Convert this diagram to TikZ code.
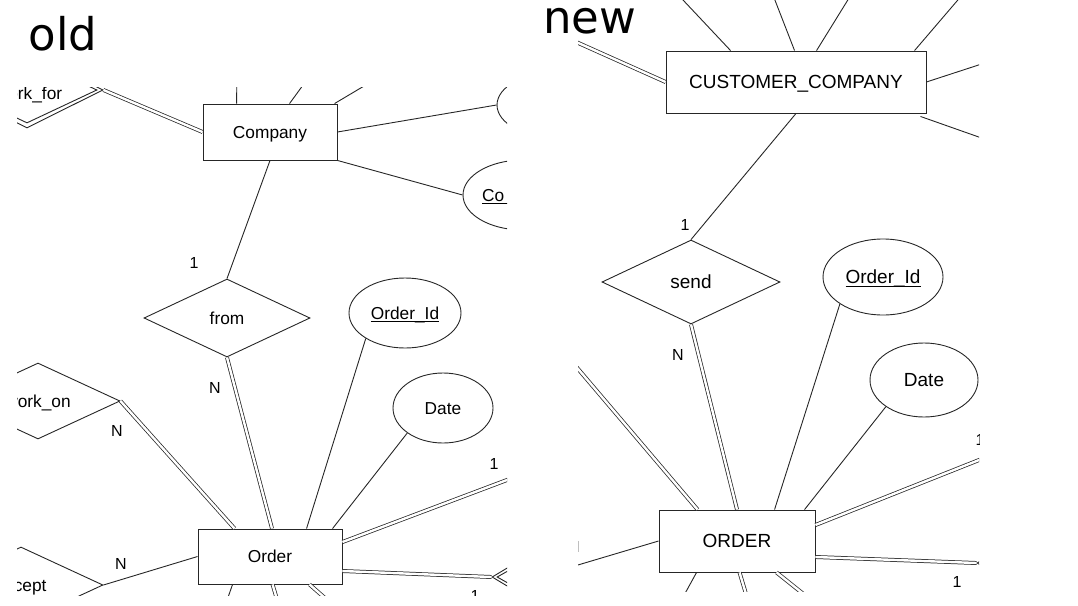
\documentclass[tikz,border=0pt]{standalone}
\usepackage{fontspec}
\setmainfont{Liberation Sans}
\newfontfamily\titlefont{DejaVu Sans}
\usetikzlibrary{shapes.geometric}
\newcommand\ulx[1]{\setbox0\hbox{#1}\rlap{\rule[-0.17em]{\wd0}{0.05em}}\box0}
\tikzset{
 ln/.style={draw=black!85, line width=0.9pt},
 dbl/.style={draw=black!85, line width=0.75pt, double=white, double distance=2.4pt},
 ent/.style={rectangle, draw=black!85, line width=0.9pt, fill=white, inner sep=0pt},
 rel/.style={diamond, shape aspect=2, draw=black!85, line width=0.9pt, inner sep=0pt},
 attr/.style={ellipse, draw=black!85, line width=0.9pt, inner sep=0pt},
 txtL/.style={font=\fontsize{17.3}{20}\selectfont, text height=12.4pt, text depth=0pt},
 txtR/.style={font=\fontsize{19}{22}\selectfont, text height=13.6pt, text depth=0pt},
 card/.style={font=\fontsize{16}{18}\selectfont, text height=11.5pt, text depth=0pt, inner sep=0pt},
 ttl/.style={font=\titlefont\fontsize{45}{50}\selectfont, inner sep=0pt, anchor=base west},
}
\begin{document}
\begin{tikzpicture}[x=1pt,y=-1pt]
\useasboundingbox (0,0) rectangle (1078,605);
\node[ttl] (old) at (28.6,50) {old};
\node[ttl] (new) at (543,33) {new};
% ---------------- old ----------------
\begin{scope}
\clip (17,87) rectangle (507,595);
\node[ent, txtL, minimum width=134pt, minimum height=56pt] (co) at (270,132) {Company};
\node[rel, minimum width=152pt, minimum height=76pt] (wf) at (27,90) {};
\node[rel, minimum width=140pt, minimum height=66pt] (wfi) at (27,90) {};
\node[txtL, inner sep=0pt] (wft) at (29,93.5) {work\_for};
\node[attr, minimum width=120pt, minimum height=66pt] (atA) at (557,105) {};
\node[attr, minimum width=120pt, minimum height=70pt] (coid) at (523,195) {};
\node[txtL, inner sep=0pt, anchor=west] (coidt) at (482,195) {\ulx{Co\phantom{mpany\_Id}}};
\node[rel, txtL, minimum width=166pt, minimum height=78pt] (from) at (227,318) {from};
\node[rel, txtL, minimum width=164pt, minimum height=76pt] (wo) at (38,401) {work\_on};
\node[rel, txtL, minimum width=164pt, minimum height=76pt] (acc) at (21,585) {accept};
\node[attr, txtL, minimum width=112pt, minimum height=70pt] (oid) at (405,313) {\ulx{Order\_Id}};
\node[attr, txtL, minimum width=100pt, minimum height=70pt] (date) at (443,408) {Date};
\node[ent, txtL, minimum width=144pt, minimum height=55pt] (ord) at (270,556.5) {Order};
\node[rel, minimum width=120pt, minimum height=72pt] (ddL) at (552,577) {};
\node[rel, minimum width=110pt, minimum height=62pt] (ddLi) at (552,577) {};
\node[card] (c1) at (194,263) {1};
\node[card] (c2) at (117,431) {N};
\node[card] (c3) at (215,388) {N};
\node[card] (c4) at (121,564) {N};
\node[card] (c5) at (494,464) {1};
\node[card] (c6) at (475,596) {1};
\coordinate (f1) at (237,70);
\coordinate (f2) at (314,70);
\coordinate (f3) at (391,70);
\coordinate (f4) at (560,460);
\coordinate (f5) at (225,606);
\coordinate (f6) at (279,606);
\coordinate (f7) at (334,606);
\draw[dbl] (wf.east) -- (co.west);
\draw[ln] ([xshift=34pt]co.north west) -- (f1);
\draw[ln] ([xshift=87pt]co.north west) -- (f2);
\draw[ln] ([xshift=132pt]co.north west) -- (f3);
\draw[ln] (co.east) -- (atA.west);
\draw[ln] (co.south east) -- (coid.west);
\draw[ln] (co.south) -- (from.north);
\draw[dbl] (from.south) -- ([xshift=2pt]ord.north);
\draw[dbl] (wo.east) -- ([xshift=37pt]ord.north west);
\draw[ln] (oid.213) -- ([xshift=109pt]ord.north west);
\draw[ln] (date.215) -- ([xshift=135pt]ord.north west);
\draw[dbl] ([yshift=14.5pt]ord.east) -- (f4);
\draw[dbl] ([yshift=-14.5pt]ord.east) -- (ddL.west);
\draw[ln] (acc.east) -- (ord.west);
\draw[ln] ([xshift=35pt]ord.south west) -- (f5);
\draw[dbl] ([xshift=75pt]ord.south west) -- (f6);
\draw[dbl] ([xshift=112pt]ord.south west) -- (f7);
\end{scope}
% ---------------- new ----------------
\begin{scope}
\clip (578,0) rectangle (979,591);
\node[ent, txtR, minimum width=260pt, minimum height=62pt] (cc) at (796,82) {CUSTOMER\_COMPANY};
\node[rel, txtR, minimum width=178pt, minimum height=84pt] (send) at (691,282) {send};
\node[attr, txtR, minimum width=120pt, minimum height=76pt] (oid2) at (883,277) {\ulx{Order\_Id}};
\node[attr, txtR, minimum width=108pt, minimum height=74pt] (date2) at (924,380) {Date};
\node[ent, txtR, minimum width=156pt, minimum height=62pt] (ORD) at (737,541) {ORDER};
\node[rel, minimum width=120pt, minimum height=72pt] (ddR) at (1037,563) {};
\node[rel, minimum width=110pt, minimum height=62pt] (ddRi) at (1037,563) {};
\node[card] (d1) at (685,225) {1};
\node[card] (d2) at (678,355) {N};
\node[card] (d3) at (980,440) {1};
\node[card] (d4) at (957,582) {1};
\node[card] (d5) at (574,547) {N};
\coordinate (g1) at (673.6,-10);
\coordinate (g2) at (771,-10);
\coordinate (g3) at (854,-10);
\coordinate (g4) at (966.4,-10);
\coordinate (g5) at (556,33);
\coordinate (g6) at (1000,58);
\coordinate (g7) at (1000,144.5);
\coordinate (g8) at (562,350);
\coordinate (g9) at (1010,447.7);
\coordinate (g10) at (550,573.3);
\coordinate (g11) at (681.4,600);
\coordinate (g12) at (747.8,600);
\coordinate (g13) at (811,600);
\draw[ln] ([xshift=65pt]cc.north west) -- (g1);
\draw[ln] ([xshift=129pt]cc.north west) -- (g2);
\draw[ln] ([xshift=151pt]cc.north west) -- (g3);
\draw[ln] ([xshift=249pt]cc.north west) -- (g4);
\draw[dbl] (cc.west) -- (g5);
\draw[ln] (cc.east) -- (g6);
\draw[ln] ([xshift=-6pt,yshift=-3pt]cc.south east) -- (g7);
\draw[ln] (cc.south) -- (send.north);
\draw[dbl] (send.south) -- (ORD.north);
\draw[dbl] (g8) -- ([xshift=39pt]ORD.north west);
\draw[ln] (oid2.212) -- ([xshift=116pt]ORD.north west);
\draw[ln] (date2.215) -- ([xshift=146pt]ORD.north west);
\draw[dbl] ([yshift=16pt]ORD.east) -- (g9);
\draw[dbl] ([yshift=-16pt]ORD.east) -- (ddR.west);
\draw[ln] (ORD.west) -- (g10);
\draw[ln] ([xshift=38pt]ORD.south west) -- (g11);
\draw[dbl] ([xshift=81pt]ORD.south west) -- (g12);
\draw[dbl] ([xshift=118pt]ORD.south west) -- (g13);
\end{scope}
\end{tikzpicture}
\end{document}
